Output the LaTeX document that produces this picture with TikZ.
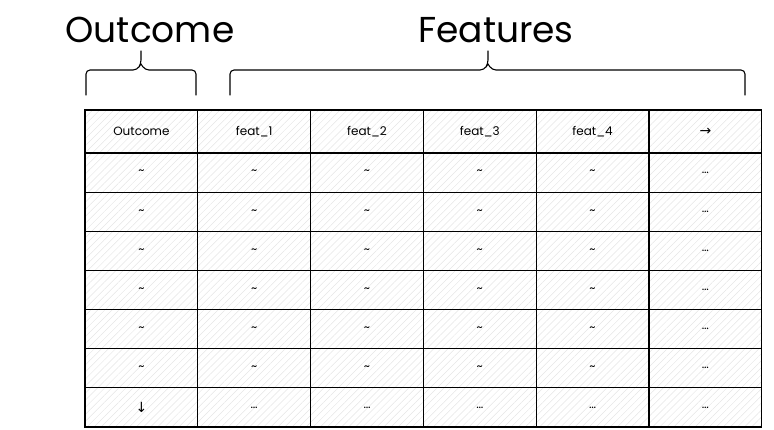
\documentclass[tikz,border=0pt]{standalone}
\usepackage{fontspec}
\setmainfont{Poppins}
\newfontfamily\arrowfont{DejaVu Sans}
\usetikzlibrary{positioning,patterns.meta}

\begin{document}
\begin{tikzpicture}[x=1pt,y=-1pt]
    \tikzstyle{cell}=[rectangle,draw=black,line width=1.1pt,
    pattern={Lines[angle=45,distance=5pt,line width=0.5pt]},
    pattern color=black!10,font=\fontsize{12}{14}\selectfont,inner sep=0pt,
    outer sep=0pt,minimum width=112.8pt,minimum height=39.14pt,anchor=north west]

    \tikzstyle{head}=[cell,minimum height=43pt]
    \tikzstyle{title}=[font=\fontsize{36}{42}\selectfont]
    \tikzstyle{arr}=[font=\fontsize{14}{16}\arrowfont]
    \tikzstyle{brace}=[draw=black,line width=1.1pt,rounded corners=4pt,line cap=round]

    \useasboundingbox (0,0) rectangle (774,429);

    \node[title](t_outcome) at (150,30){Outcome};
    \node[title](t_features) at (496,30){Features};

    \node[head](r0_1) at (85,110){Outcome};
    \node[head](r0_2)[right=0pt of r0_1]{feat\_1};
    \node[head](r0_3)[right=0pt of r0_2]{feat\_2};
    \node[head](r0_4)[right=0pt of r0_3]{feat\_3};
    \node[head](r0_5)[right=0pt of r0_4]{feat\_4};
    \node[head,arr](r0_6)[right=0pt of r0_5]{→};

    \foreach \r [evaluate=\r as \p using int(\r-1)] in {1,...,7}
      \foreach \c in {1,...,6}
        \node[cell](r\r_\c)[below=0pt of r\p_\c]{\ifnum\c=6 \ldots\else
          \ifnum\r=7 \ifnum\c=1 {\fontsize{14}{16}\arrowfont ↓}\else\ldots\fi
          \else\textasciitilde\fi\fi};

    \draw[brace] (86,95) -- (86,70) -- (137,70) -- (141,64) -- (141,51);
    \draw[brace] (141,64) -- (145,70) -- (196,70) -- (196,95);

    \draw[brace] (230,95) -- (230,70) -- (484,70) -- (488,64) -- (488,51);
    \draw[brace] (488,64) -- (492,70) -- (745,70) -- (745,95);
  \end{tikzpicture}
\end{document}
